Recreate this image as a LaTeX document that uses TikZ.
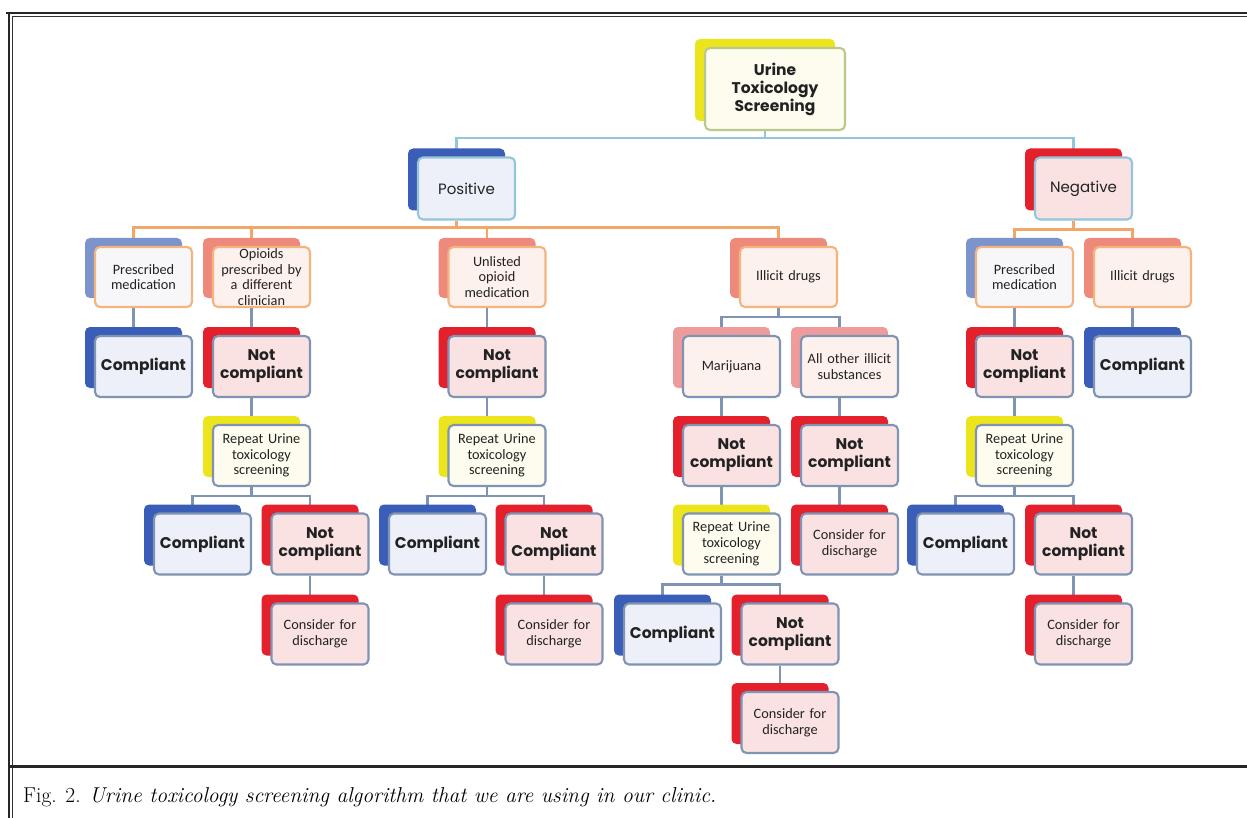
\documentclass[tikz,border=0pt]{standalone}
\usepackage{fontspec}
\newfontfamily\gfont{Poppins}
\newfontfamily\cfont{Carlito}
\usetikzlibrary{shadows,backgrounds}
\definecolor{cYellow}{HTML}{EDE51C}
\definecolor{cBlue}{HTML}{3A5DB8}
\definecolor{cRed}{HTML}{E3202B}
\definecolor{cLBlue}{HTML}{7D93CC}
\definecolor{cSalmon}{HTML}{EE8A7C}
\definecolor{cPinkB}{HTML}{EE9B9B}
\definecolor{fCream}{HTML}{FDFCEE}
\definecolor{fBlue}{HTML}{EDF0F8}
\definecolor{fPink}{HTML}{FBE2E2}
\definecolor{fLPink}{HTML}{FDF1EE}
\definecolor{fWhite}{HTML}{F7F7FA}
\definecolor{bOlive}{HTML}{B8C98C}
\definecolor{bGrey}{HTML}{7F93B3}
\definecolor{bLBlue}{HTML}{93C6DA}
\definecolor{bOrange}{HTML}{F3B47E}
\definecolor{lOrange}{HTML}{F2A66A}
\definecolor{txt}{HTML}{222222}
\tikzset{
  boxbase/.style={rounded corners=5pt, line width=2.1pt, inner sep=1pt, align=center,
    text=txt, minimum width=97pt, minimum height=61pt, text width=95pt},
  backsh/.style={copy shadow={shadow xshift=-10pt, shadow yshift=9pt, fill=#1, draw=none}},
  txtsmall/.style={font=\cfont\fontsize{14.3}{15.8}\selectfont},
  txtbold/.style={font=\gfont\bfseries\fontsize{15.5}{18}\selectfont},
  txtreg/.style={font=\gfont\fontsize{15}{18}\selectfont},
  compbox/.style={boxbase, txtbold, backsh=cBlue, fill=fBlue, draw=bGrey},
  ncbox/.style={boxbase, txtbold, backsh=cRed, fill=fPink, draw=bGrey},
  repbox/.style={boxbase, txtsmall, backsh=cYellow, fill=fCream, draw=bGrey},
  discbox/.style={boxbase, txtsmall, backsh=cRed, fill=fPink, draw=bGrey},
  catbox/.style={boxbase, txtsmall, backsh=#1, fill=fLPink, draw=bOrange},
  subbox/.style={boxbase, txtsmall, backsh=cPinkB, fill=fLPink, draw=bGrey},
  lnblue/.style={line width=2.2pt, draw=bLBlue},
  lnorange/.style={line width=2.2pt, draw=lOrange},
  lngrey/.style={line width=2.2pt, draw=bGrey},
}
\begin{document}
\begin{tikzpicture}[x=1pt,y=-1pt]
\useasboundingbox (0,0) rectangle (1247,818);
\begin{scope}[on background layer]
\fill[white] (0,0) rectangle (1247,818);
\end{scope}
% frame
\draw[line width=2.4pt, black!85] (6,13.3) -- (1247,13.3);
\draw[line width=0.9pt, black!80] (12.2,16.4) -- (1247,16.4);
\draw[line width=2.4pt, black!85] (8.7,12) -- (8.7,818);
\draw[line width=0.9pt, black!80] (12.2,16.4) -- (12.2,818);
\draw[line width=3pt, black!85] (8.7,766) -- (1247,766);
% caption
\node[anchor=base west, inner sep=0, text=black, font=\fontsize{21.5}{25}\selectfont] (cap) at (23,802)
  {Fig. 2. \textit{Urine toxicology screening algorithm that we are using in our clinic.}};

% nodes
\node[boxbase, txtbold, backsh=cYellow, fill=fCream, draw=bOlive, minimum width=140pt, text width=138pt, minimum height=82pt] (top) at (775,89) {Urine\\Toxicology\\Screening};
\node[boxbase, txtreg, backsh=cBlue, fill=fBlue, draw=bLBlue, minimum height=62pt] (pos) at (466.5,188.5) {Positive};
\node[boxbase, txtreg, backsh=cRed, fill=fPink, draw=bLBlue, minimum height=62pt] (neg) at (1083.5,188.5) {Negative};

% level 2
\node[catbox=cLBlue, fill=fWhite, minimum height=60pt] (pm1) at (143.5,277) {Prescribed\\medication};
\node[catbox=cSalmon, minimum height=60pt] (opd) at (261.5,277) {Opioids\\prescribed by\\a different\\clinician};
\node[catbox=cSalmon, minimum height=60pt] (unl) at (497,277) {Unlisted\\opioid\\medication};
\node[catbox=cSalmon, minimum height=60pt] (ill) at (788.5,277) {Illicit drugs};
\node[catbox=cLBlue, fill=fWhite, minimum height=60pt] (pm2) at (1024.5,277) {Prescribed\\medication};
\node[catbox=cSalmon, minimum height=60pt] (ill2) at (1142.5,277) {Illicit drugs};

% level 3
\node[compbox] (c1) at (143.5,366.5) {Compliant};
\node[ncbox] (nc1) at (261.5,366.5) {Not\\compliant};
\node[ncbox] (nc2) at (497,366.5) {Not\\compliant};
\node[subbox] (mar) at (731.5,366.5) {Marijuana};
\node[subbox] (aos) at (849.5,366.5) {All other illicit\\substances};
\node[ncbox] (nc3) at (1024.5,366.5) {Not\\compliant};
\node[compbox] (c2) at (1142.5,366.5) {Compliant};

% level 4
\node[repbox] (rep1) at (261.5,455.5) {Repeat Urine\\toxicology\\screening};
\node[repbox] (rep2) at (497,455.5) {Repeat Urine\\toxicology\\screening};
\node[ncbox] (nc4) at (731.5,455.5) {Not\\compliant};
\node[ncbox] (nc5) at (849.5,455.5) {Not\\compliant};
\node[repbox] (rep3) at (1024.5,455.5) {Repeat Urine\\toxicology\\screening};

% level 5
\node[compbox] (c3) at (202.5,544) {Compliant};
\node[ncbox] (nc6) at (320,544) {Not\\compliant};
\node[compbox] (c4) at (437.5,544) {Compliant};
\node[ncbox] (nc7) at (554,544) {Not\\Compliant};
\node[repbox] (rep4) at (731.5,544) {Repeat Urine\\toxicology\\screening};
\node[discbox] (dis1) at (849.5,544) {Consider for\\discharge};
\node[compbox] (c5) at (965.5,544) {Compliant};
\node[ncbox] (nc8) at (1083.5,544) {Not\\compliant};

% level 6
\node[discbox] (dis2) at (320,634) {Consider for\\discharge};
\node[discbox] (dis3) at (554,634) {Consider for\\discharge};
\node[compbox] (c6) at (672.5,634) {Compliant};
\node[ncbox] (nc9) at (790,634) {Not\\compliant};
\node[discbox] (dis4) at (1083.5,634) {Consider for\\discharge};

% level 7
\node[discbox] (dis5) at (790,722.5) {Consider for\\discharge};

% connectors
\begin{scope}[on background layer]
% top
\coordinate (tb) at ([xshift=-10pt,yshift=-7pt]top.south);
\draw[lnblue] ([xshift=-10pt]top.south) -- (tb);
\draw[lnblue] ([xshift=-10pt]pos.north) |- (tb) -| ([xshift=-10pt]neg.north);
% positive
\coordinate (pb) at ([xshift=-10pt,yshift=-7pt]pos.south);
\draw[lnorange] ([xshift=-10pt]pos.south) -- (pb);
\draw[lnorange] ([xshift=-10pt]pm1.north) |- (pb) -| ([xshift=-10pt]ill.north);
\draw[lnorange] ([xshift=-10pt]opd.north) |- (pb);
\draw[lnorange] ([xshift=-10pt]unl.north) |- (pb);
% negative
\coordinate (nb) at ([xshift=-10pt,yshift=-9pt]neg.south);
\draw[lnorange] ([xshift=-10pt]neg.south) -- (nb);
\draw[lnorange] ([xshift=-10pt]pm2.north) |- (nb) -| ([xshift=-10pt]ill2.north);
% single links
\draw[lngrey] ([xshift=-10pt]pm1.south) -- ([xshift=-10pt]c1.north);
\draw[lngrey] ([xshift=-10pt]opd.south) -- ([xshift=-10pt]nc1.north);
\draw[lngrey] ([xshift=-10pt]nc1.south) -- ([xshift=-10pt]rep1.north);
\draw[lngrey] ([xshift=-10pt]unl.south) -- ([xshift=-10pt]nc2.north);
\draw[lngrey] ([xshift=-10pt]nc2.south) -- ([xshift=-10pt]rep2.north);
\draw[lngrey] ([xshift=-10pt]mar.south) -- ([xshift=-10pt]nc4.north);
\draw[lngrey] ([xshift=-10pt]nc4.south) -- ([xshift=-10pt]rep4.north);
\draw[lngrey] ([xshift=-10pt]aos.south) -- ([xshift=-10pt]nc5.north);
\draw[lngrey] ([xshift=-10pt]nc5.south) -- ([xshift=-10pt]dis1.north);
\draw[lngrey] ([xshift=-10pt]pm2.south) -- ([xshift=-10pt]nc3.north);
\draw[lngrey] ([xshift=-10pt]nc3.south) -- ([xshift=-10pt]rep3.north);
\draw[lngrey] ([xshift=-10pt]ill2.south) -- ([xshift=-10pt]c2.north);
\draw[lngrey] ([xshift=-10pt]nc6.south) -- ([xshift=-10pt]dis2.north);
\draw[lngrey] ([xshift=-10pt]nc7.south) -- ([xshift=-10pt]dis3.north);
\draw[lngrey] ([xshift=-10pt]nc8.south) -- ([xshift=-10pt]dis4.north);
\draw[lngrey] ([xshift=-10pt]nc9.south) -- ([xshift=-10pt]dis5.north);
% forks
\coordinate (ib) at ([xshift=-10pt,yshift=-9pt]ill.south);
\draw[lngrey] ([xshift=-10pt]ill.south) -- (ib);
\draw[lngrey] ([xshift=-10pt]mar.north) |- (ib) -| ([xshift=-10pt]aos.north);
\coordinate (r1b) at ([xshift=-10pt,yshift=-9pt]rep1.south);
\draw[lngrey] ([xshift=-10pt]rep1.south) -- (r1b);
\draw[lngrey] ([xshift=-10pt]c3.north) |- (r1b) -| ([xshift=-10pt]nc6.north);
\coordinate (r2b) at ([xshift=-10pt,yshift=-9pt]rep2.south);
\draw[lngrey] ([xshift=-10pt]rep2.south) -- (r2b);
\draw[lngrey] ([xshift=-10pt]c4.north) |- (r2b) -| ([xshift=-10pt]nc7.north);
\coordinate (r3b) at ([xshift=-10pt,yshift=-9pt]rep3.south);
\draw[lngrey] ([xshift=-10pt]rep3.south) -- (r3b);
\draw[lngrey] ([xshift=-10pt]c5.north) |- (r3b) -| ([xshift=-10pt]nc8.north);
\coordinate (r4b) at ([xshift=-10pt,yshift=-9pt]rep4.south);
\draw[lngrey] ([xshift=-10pt]rep4.south) -- (r4b);
\draw[lngrey] ([xshift=-10pt]c6.north) |- (r4b) -| ([xshift=-10pt]nc9.north);
\end{scope}
\end{tikzpicture}
\end{document}
